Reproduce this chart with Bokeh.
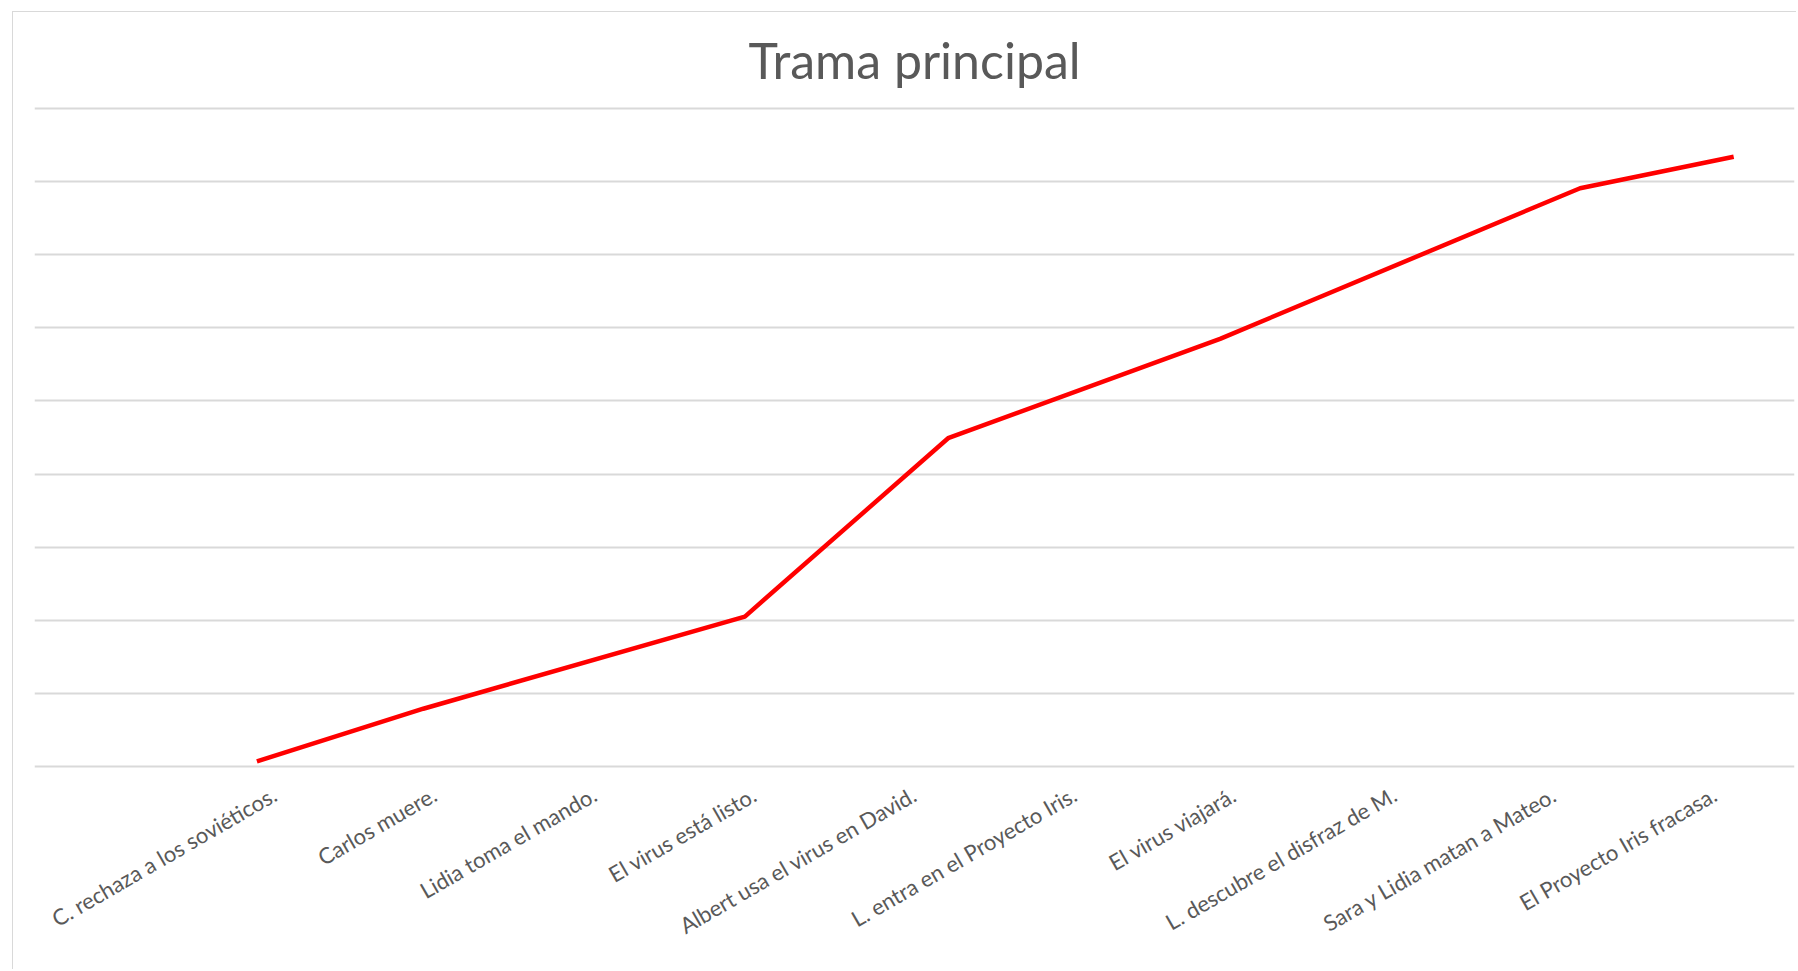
from bokeh.plotting import figure
from bokeh.models import FixedTicker, Range1d
from bokeh.embed import file_html
from bokeh.resources import INLINE
import math

# ---- data ----
categories = [
    "C. rechaza a los soviéticos.",
    "Carlos muere.",
    "Lidia toma el mando.",
    "El virus está listo.",
    "Albert usa el virus en David.",
    "L. entra en el Proyecto Iris.",
    "El virus viajará.",
    "L. descubre el disfraz de M.",
    "Sara y Lidia matan a Mateo.",
    "El Proyecto Iris fracasa.",
]
category_pos = [1, 2, 3, 4, 5, 6, 7, 8, 9, 10]
line_x = [0.89, 1.93, 3.94, 5.21, 6.91, 9.16, 10.12]
line_y = [0.07, 0.79, 2.05, 4.49, 5.85, 7.91, 8.34]
y_ticks = [0, 1, 2, 3, 4, 5, 6, 7, 8, 9]
title_text = "Trama principal"

FONT = "Lato"
GRAY = "#595959"

p = figure(
    width=1784, height=958,
    x_range=Range1d(-0.5, 10.5),
    y_range=Range1d(-0.055, 9.055),
    output_backend="svg", toolbar_location=None,
    min_border_left=21, min_border_right=3,
    min_border_top=92, min_border_bottom=200,
)
p.margin = (11, 0, 0, 12)
p.styles = {"border-left": "1px solid #d9d9d9", "border-top": "1px solid #d9d9d9"}

p.title.text = title_text
p.title.align = "center"
p.title.text_font = FONT
p.title.text_font_size = "50px"
p.title.text_font_style = "normal"
p.title.text_color = GRAY
p.title.standoff = 29

p.outline_line_color = None
p.background_fill_color = "white"
p.border_fill_color = "white"

# y axis hidden, grid lines only
p.yaxis.visible = False
p.ygrid.ticker = FixedTicker(ticks=y_ticks)
p.ygrid.grid_line_color = "#d9d9d9"
p.ygrid.grid_line_width = 2
p.xgrid.grid_line_color = None

# x axis: rotated category labels
p.xaxis.ticker = FixedTicker(ticks=category_pos)
p.xaxis.major_label_overrides = {c: t for c, t in zip(category_pos, categories)}
p.xaxis.major_label_orientation = math.pi / 6
p.xaxis.axis_line_color = None
p.xaxis.major_tick_line_color = None
p.xaxis.minor_tick_line_color = None
p.xaxis.major_label_text_font = FONT
p.xaxis.major_label_text_font_size = "22px"
p.xaxis.major_label_text_color = GRAY
p.xaxis.major_label_standoff = 16

p.line(line_x, line_y, line_color="#ff0000", line_width=4.5)

open("out.html", "w").write(file_html(p, INLINE))
